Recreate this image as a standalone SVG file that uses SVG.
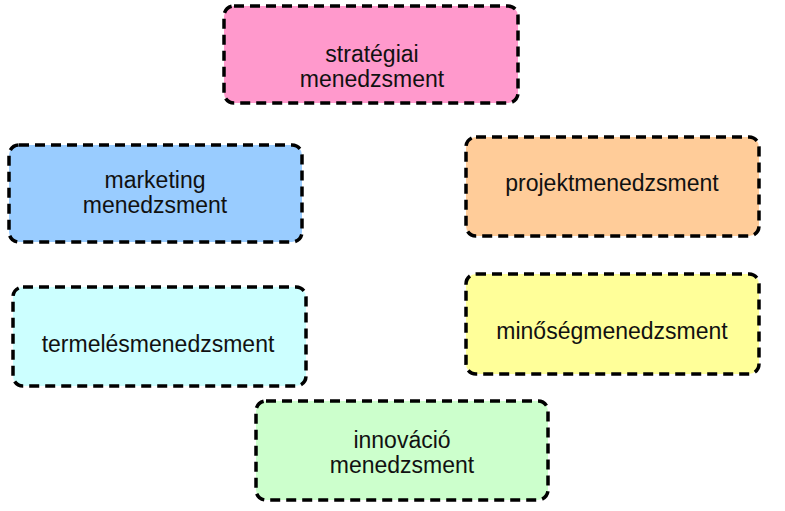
<svg xmlns="http://www.w3.org/2000/svg" width="785" height="511" viewBox="0 0 785 511">
<style>
.box{stroke:#000;stroke-width:3.5;stroke-dasharray:10 6;}
.t{font-family:"Liberation Sans",Arial,sans-serif;font-size:23px;fill:#111;text-anchor:middle;}
</style>
<rect width="785" height="511" fill="#fff"/>
<g id="strategiai">
<rect class="box" x="224" y="6" width="294" height="97" rx="10" fill="#ff99cc"/>
<text class="t" x="372" y="62">stratégiai</text>
<text class="t" x="372" y="87">menedzsment</text>
</g>
<g id="marketing">
<rect class="box" x="9" y="145" width="293" height="97" rx="10" fill="#99ccff"/>
<text class="t" x="155" y="188">marketing</text>
<text class="t" x="155" y="213">menedzsment</text>
</g>
<g id="projekt">
<rect class="box" x="466" y="137" width="293" height="99" rx="10" fill="#ffcc99"/>
<text class="t" x="612" y="191">projektmenedzsment</text>
</g>
<g id="termeles">
<rect class="box" x="13" y="287" width="293" height="99" rx="10" fill="#ccffff"/>
<text class="t" x="158" y="352">termelésmenedzsment</text>
</g>
<g id="minoseg">
<rect class="box" x="466" y="274" width="293" height="100" rx="10" fill="#ffff99"/>
<text class="t" x="612" y="339">minőségmenedzsment</text>
</g>
<g id="innovacio">
<rect class="box" x="256" y="401" width="292" height="99" rx="10" fill="#ccffcc"/>
<text class="t" x="402" y="448">innováció</text>
<text class="t" x="402" y="473">menedzsment</text>
</g>
<g id="connectors"></g>
</svg>
